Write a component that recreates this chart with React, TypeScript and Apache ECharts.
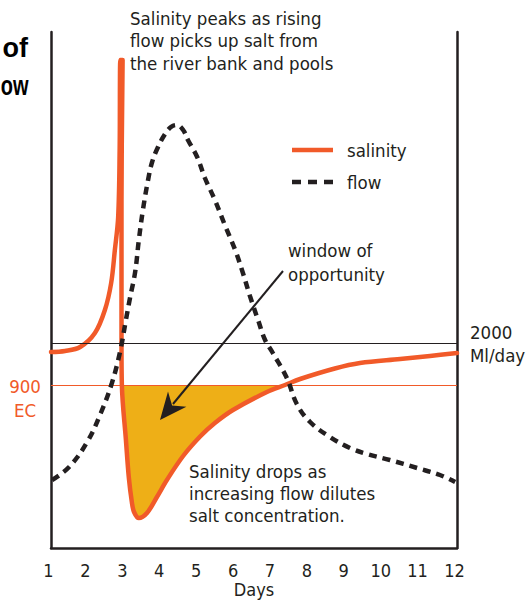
import React, { useEffect, useRef } from "react";
import * as echarts from "echarts";

// ---- data (arbitrary vertical units, days on x) ----
const xTickLabels = ["1", "2", "3", "4", "5", "6", "7", "8", "9", "10", "11", "12"];
const EC_900 = 163; // salinity threshold level
const FLOW_2000 = 205; // 2000 Ml/day flow level

const salinity: [number, number][] = [
  [1.0, 196], [1.38, 197], [1.79, 201], [2.19, 215], [2.46, 238], [2.63, 265],
  [2.73, 298], [2.82, 331], [2.86, 398], [2.88, 488],
  [2.94, 488], [2.91, 348], [2.91, 205], [2.92, 163], [3.03, 108], [3.11, 70],
  [3.19, 46], [3.25, 36], [3.38, 30], [3.6, 35], [3.87, 51], [4.14, 68],
  [4.58, 92], [5.04, 111.5], [5.44, 125], [5.93, 138], [6.85, 156], [7.34, 163],
  [7.75, 169], [8.69, 179.5], [9.37, 185], [10.46, 189], [11.27, 192], [12.0, 195],
];

const flow: [number, number][] = [
  [1.03, 68], [1.49, 81], [1.98, 106], [2.35, 135], [2.65, 165], [2.87, 196],
  [3.03, 228], [3.14, 250], [3.28, 276], [3.38, 308], [3.49, 338], [3.63, 368],
  [3.74, 386], [3.9, 401], [4.09, 414], [4.25, 421], [4.41, 423], [4.58, 418],
  [4.71, 408], [4.96, 391], [5.17, 370], [5.44, 348], [5.71, 323], [5.99, 298],
  [6.2, 275], [6.39, 252], [6.61, 228], [6.8, 208], [7.01, 195], [7.39, 170],
  [7.66, 144], [8.02, 126], [8.56, 111], [9.1, 100], [9.56, 94], [10.18, 88],
  [10.92, 80], [11.54, 73], [11.95, 66],
];

const ORANGE = "#f15a29";
const GOLD = "#eeaf17";
const INK = "#231f20";
const FONT = '"Liberation Sans Narrow", "DejaVu Sans Condensed", Roboto, sans-serif';
const BOLD = '"Liberation Sans", Arial, sans-serif';

export default function App() {
  const ref = useRef<HTMLDivElement>(null);

  useEffect(() => {
    const chart = echarts.init(ref.current!, null, { renderer: "svg" });
    const fill = salinity.filter(([, v]) => v <= EC_900);

    const txt = (text: string, x: number, y: number, extra: any = {}, el: any = {}) => ({
      type: "text",
      x,
      y,
      z: 20,
      silent: true,
      ...el,
      style: {
        text,
        fill: INK,
        fontSize: 18.5,
        fontFamily: FONT,
        align: "left",
        verticalAlign: "top",
        lineHeight: 23,
        ...extra,
      },
    });

    const option: any = {
      animation: false,
      backgroundColor: "#ffffff",
      grid: { left: 51, right: 71, top: 32, bottom: 54, outerBoundsMode: "none", containLabel: false },
      xAxis: {
        type: "value",
        min: 1,
        max: 12,
        interval: 1,
        name: "Days",
        nameLocation: "middle",
        nameGap: 32,
        nameMoveOverlap: false,
        nameTextStyle: { color: INK, fontSize: 18, fontFamily: FONT, lineHeight: 19 },
        axisLine: { show: true, lineStyle: { color: INK, width: 2.5 } },
        axisTick: { show: false },
        splitLine: { show: false },
        axisLabel: {
          color: INK,
          fontSize: 18,
          fontFamily: FONT,
          lineHeight: 18,
          margin: 13,
          padding: [0, 5, 0, 0],
          formatter: (v: number) => xTickLabels[Math.round(v) - 1] ?? "",
        },
      },
      yAxis: [
        {
          type: "value",
          position: "left",
          min: 0,
          max: 516,
          axisLine: { show: true, lineStyle: { color: INK, width: 2.5 } },
          axisTick: { show: false },
          axisLabel: { show: false },
          splitLine: { show: false },
        },
        {
          type: "value",
          position: "right",
          min: 0,
          max: 516,
          axisLine: { show: true, lineStyle: { color: INK, width: 2.5 } },
          axisTick: { show: false },
          axisLabel: { show: false },
          splitLine: { show: false },
        },
      ],
      series: [
        {
          name: "window",
          type: "line",
          data: fill,
          smooth: 0.35,
          symbol: "none",
          lineStyle: { width: 0, opacity: 0 },
          areaStyle: { color: GOLD, opacity: 1, origin: EC_900 },
          z: 2,
          silent: true,
        },
        {
          name: "refs",
          type: "line",
          data: [],
          z: 3,
          markLine: {
            silent: true,
            symbol: "none",
            label: { show: false },
            animation: false,
            data: [
              { yAxis: FLOW_2000, lineStyle: { color: INK, width: 1.2, type: "solid" } },
              { yAxis: EC_900, lineStyle: { color: ORANGE, width: 1.2, type: "solid" } },
            ],
          },
        },
        {
          name: "salinity",
          type: "line",
          data: salinity,
          smooth: 0.35,
          symbol: "none",
          lineStyle: { color: ORANGE, width: 4.5, cap: "round", join: "round" },
          z: 4,
          silent: true,
        },
        {
          name: "flow",
          type: "line",
          data: flow,
          smooth: 0.4,
          symbol: "none",
          lineStyle: { color: INK, width: 4.5, type: [8, 6], cap: "butt" },
          z: 5,
          silent: true,
        },
      ],
      graphic: [
        // cropped title fragments
        txt("of", 28, 48, { align: "right", verticalAlign: "middle", fontSize: 27, fontWeight: "bold", fontFamily: BOLD, fill: "#000" }),
        txt("ow", 28.5, 85, { align: "right", verticalAlign: "middle", fontSize: 27, fontWeight: "bold", fontFamily: BOLD, fill: "#000" }, { scaleX: 0.74 }),
        // top annotation
        txt("Salinity peaks as rising\nflow picks up salt from\nthe river bank and pools", 130, 7, { lineHeight: 22.5 }),
        // legend
        {
          type: "line",
          silent: true,
          z: 20,
          shape: { x1: 292, y1: 150, x2: 333, y2: 150 },
          style: { stroke: ORANGE, lineWidth: 4.5 },
        },
        {
          type: "line",
          silent: true,
          z: 20,
          shape: { x1: 292, y1: 182, x2: 333, y2: 182 },
          style: { stroke: INK, lineWidth: 4.5, lineDash: [9, 7] },
        },
        txt("salinity", 347, 150, { verticalAlign: "middle" }),
        txt("flow", 347, 182, { verticalAlign: "middle" }),
        // window of opportunity
        txt("window of\nopportunity", 288, 238, { lineHeight: 24 }),
        {
          type: "line",
          silent: true,
          z: 20,
          shape: { x1: 283, y1: 271, x2: 173, y2: 404 },
          style: { stroke: INK, lineWidth: 2 },
        },
        {
          type: "polygon",
          silent: true,
          z: 20,
          shape: { points: [[160, 420], [186.4, 406.8], [172.1, 405.4], [168.0, 391.6]] },
          style: { fill: INK },
        },
        // bottom annotation
        txt("Salinity drops as\nincreasing flow dilutes\nsalt concentration.", 189, 460, { lineHeight: 22 }),
        // reference labels
        txt("2000\nMl/day", 470, 321, { lineHeight: 23 }),
        txt("900\nEC", 25, 374, { align: "center", fill: ORANGE, lineHeight: 24 }),
      ],
    };

    chart.setOption(option);
    return () => chart.dispose();
  }, []);

  return (
    <div
      ref={ref}
      style={{ position: "fixed", left: 0, top: 0, width: 528, height: 602, background: "#fff" }}
    />
  );
}
